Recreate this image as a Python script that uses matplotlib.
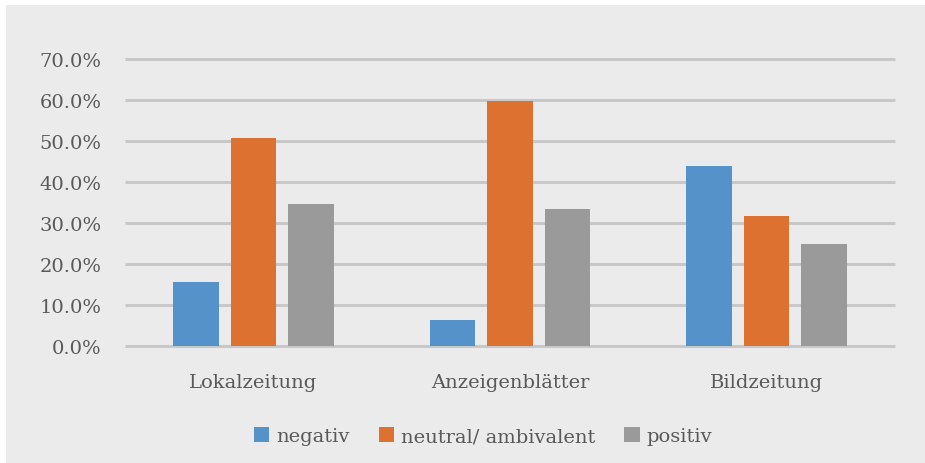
import matplotlib
matplotlib.use("Agg")
import matplotlib.pyplot as plt
import numpy as np
from matplotlib.patches import Rectangle
from matplotlib.ticker import FuncFormatter

categories = ["Lokalzeitung", "Anzeigenblätter", "Bildzeitung"]
series_names = ["negativ", "neutral/ ambivalent", "positiv"]
negativ = [15.6, 6.4, 43.9]
neutral = [50.6, 59.8, 31.6]
positiv = [34.6, 33.3, 24.8]
colors = ["#5592C9", "#DD7230", "#9A9A9A"]
y_ticks = [0, 10, 20, 30, 40, 50, 60, 70]

W, H = 925, 464
fig = plt.figure(figsize=(W / 100, H / 100), dpi=100)
fig.patch.set_facecolor("white")
fig.add_artist(Rectangle((6 / W, 0), 1 - 6 / W, 1 - 6 / H, transform=fig.transFigure,
                         facecolor="#EBEBEB", edgecolor="none", zorder=-10))

# axes box: x 125..895, y 59.7..347.3 (pixels from top)
ax = fig.add_axes([125 / W, 1 - 347.3 / H, 770 / W, (347.3 - 59.7) / H])
ax.set_facecolor("none")
ax.set_xlim(0, 3)
ax.set_ylim(0, 70)

font = ["DejaVu Serif"]
text_color = "#595959"
fs = 14

x = np.arange(len(categories)) + 0.5
step = 0.224
width = 0.177
for i, (vals, name) in enumerate(zip([negativ, neutral, positiv], series_names)):
    ax.bar(x + (i - 1) * step, vals, width=width, color=colors[i], label=name, zorder=3)

ax.set_yticks(y_ticks)
ax.yaxis.set_major_formatter(FuncFormatter(lambda v, p: f"{v:.1f}%"))
ax.grid(axis="y", color="#C8C8C8", linewidth=2.2, zorder=1)
for gl in ax.get_ygridlines():
    gl.set_clip_on(False)
    gl.set_solid_capstyle("butt")
ax.set_xticks(x)
ax.set_xticklabels(categories)
for s in ax.spines.values():
    s.set_visible(False)
ax.tick_params(axis="both", length=0, colors=text_color, labelsize=fs)
ax.tick_params(axis="y", pad=17)
ax.tick_params(axis="x", pad=19)
for lab in ax.get_xticklabels() + ax.get_yticklabels():
    lab.set_fontfamily(font)
    lab.set_color(text_color)

leg = fig.legend(loc="center", bbox_to_anchor=(483 / W, 1 - 437 / H), ncol=3, frameon=False,
                 prop={"family": font, "size": fs}, handlelength=0.8, handleheight=0.8,
                 handletextpad=0.35, columnspacing=1.5, labelcolor=text_color)

fig.savefig("out.png", dpi=100, facecolor=fig.get_facecolor())
